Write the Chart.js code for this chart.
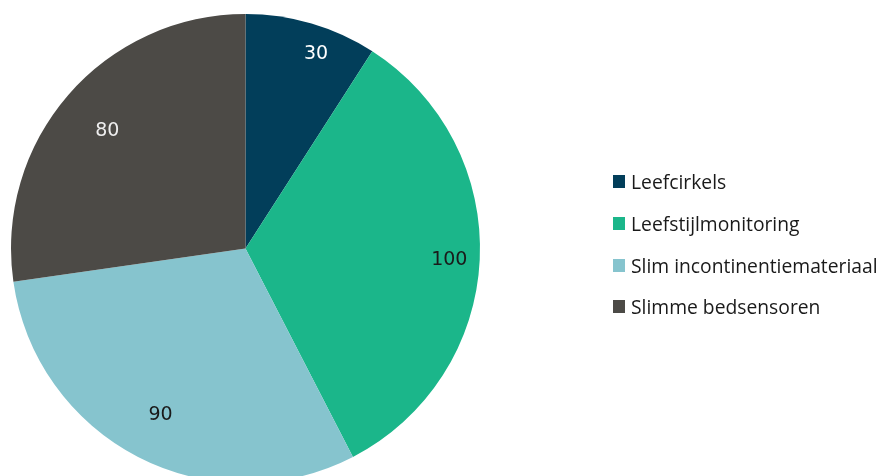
<!DOCTYPE html>
<html>
<head>
<meta charset="utf-8">
<script src="https://cdn.jsdelivr.net/npm/chart.js@4/dist/chart.umd.min.js"></script>
<style>
  html, body { margin: 0; padding: 0; background: #fff; }
  #wrap { position: relative; width: 880px; height: 476px; overflow: hidden; }
  #chart { position: absolute; left: 0; top: 0; }
  #legend { position: absolute; left: 613px; top: 161px; font-family: "Open Sans", sans-serif; font-size: 19.3px; color: #1a1a1a; }
  .item { display: flex; align-items: center; height: 41.7px; white-space: nowrap; }
  .box { width: 12px; height: 13px; margin-right: 6px; flex: none; }
</style>
</head>
<body>
<div id="wrap">
  <canvas id="chart" width="880" height="500"></canvas>
  <div id="legend"></div>
</div>
<script>
  // categories
  const labels = ['Leefcirkels', 'Leefstijlmonitoring', 'Slim incontinentiemateriaal', 'Slimme bedsensoren'];
  const values = [30, 110, 100, 90];
  // numbers printed on the slices
  const shownValues = ['30', '100', '90', '80'];

  const colors = ['#023E5A', '#1BB68A', '#86C4CE', '#4C4A46'];
  const labelColors = ['#ffffff', '#1a1a1a', '#1a1a1a', '#eeeeee'];
  const labelRadius = [0.89, 0.87, 0.79, 0.78];
  const labelTurn = [3.4, 0, 0, 0]; // degrees, clockwise nudge

  // value labels drawn inside each slice
  const valueLabels = {
    id: 'valueLabels',
    afterDatasetsDraw(chart) {
      const ctx = chart.ctx;
      const meta = chart.getDatasetMeta(0);
      ctx.save();
      ctx.font = '19px "DejaVu Sans", sans-serif';
      ctx.textAlign = 'center';
      ctx.textBaseline = 'middle';
      meta.data.forEach((arc, i) => {
        const mid = (arc.startAngle + arc.endAngle) / 2 + labelTurn[i] * Math.PI / 180;
        const r = arc.outerRadius * labelRadius[i];
        ctx.fillStyle = labelColors[i];
        ctx.fillText(shownValues[i], arc.x + Math.cos(mid) * r, arc.y + Math.sin(mid) * r + 2);
      });
      ctx.restore();
    },
  };

  new Chart(document.getElementById('chart'), {
    type: 'pie',
    data: {
      labels,
      datasets: [{ data: values, backgroundColor: colors, borderWidth: 0 }],
    },
    options: {
      responsive: false,
      animation: false,
      layout: { padding: { left: 11, top: 14, right: 400, bottom: 17 } },
      plugins: { legend: { display: false }, tooltip: { enabled: false } },
    },
    plugins: [valueLabels],
  });

  // legend
  const legend = document.getElementById('legend');
  labels.forEach((name, i) => {
    const row = document.createElement('div');
    row.className = 'item';
    row.innerHTML = `<span class="box" style="background:${colors[i]}"></span><span>${name}</span>`;
    legend.appendChild(row);
  });
</script>
</body>
</html>
